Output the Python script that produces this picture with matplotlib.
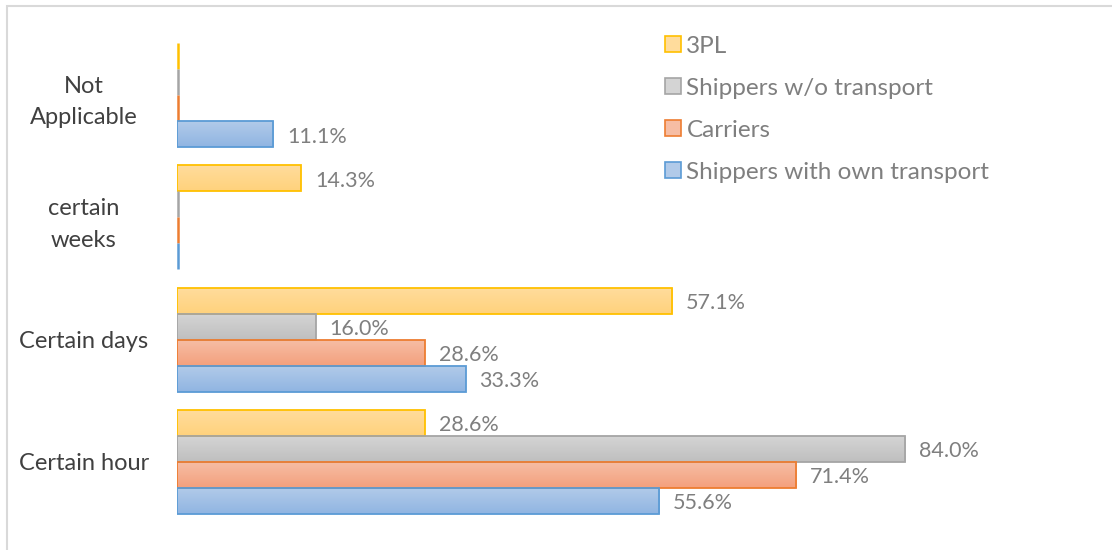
import numpy as np
import matplotlib
matplotlib.use('Agg')
import matplotlib.pyplot as plt
from matplotlib.colors import LinearSegmentedColormap
from matplotlib.patches import Rectangle
from matplotlib.lines import Line2D

categories = ['Certain hour', 'Certain days', 'certain\nweeks', 'Not\nApplicable']
series = ['3PL', 'Shippers w/o transport', 'Carriers', 'Shippers with own transport']
v_3pl = [28.6, 57.1, 14.3, 0.0]
v_wo = [84.0, 16.0, 0.0, 0.0]
v_car = [71.4, 28.6, 0.0, 0.0]
v_own = [55.6, 33.3, 0.0, 11.1]
values = [v_3pl, v_wo, v_car, v_own]

# couleurs: haut du dégradé, bas du dégradé, bordure
tops = ['#FFDC9C', '#D4D4D4', '#F6BDA4', '#B1CAE9']
bots = ['#FFD27C', '#BFBFBF', '#F4A07D', '#90B5E2']
edges = ['#FFC000', '#A5A5A5', '#ED7D31', '#5B9BD5']

plt.rcParams['font.family'] = ['Lato', 'DejaVu Sans']

fig = plt.figure(figsize=(11.12, 5.5), dpi=100)
W, H = 1112, 550
ax = fig.add_axes([177/W, (H-523)/H, (1044-177)/W, (523-34)/H])

h = 0.2125
offs = [1.5*h, 0.5*h, -0.5*h, -1.5*h]
y = np.arange(len(categories))

for k in range(4):
    cmap = LinearSegmentedColormap.from_list('g%d' % k, [bots[k], tops[k]])
    grad = np.linspace(0, 1, 50).reshape(-1, 1)
    for i in range(len(categories)):
        v = values[k][i]
        yc = y[i] + offs[k]
        if v > 0:
            ax.imshow(grad, cmap=cmap, origin='lower', aspect='auto',
                      extent=[0, v, yc - h/2, yc + h/2], zorder=1)
            ax.add_patch(Rectangle((0, yc - h/2), v, h, facecolor='none',
                                   edgecolor=edges[k], lw=1.3, zorder=2))
            ax.text(v + 1.6, yc - 0.02, '%.1f%%' % v, va='center', ha='left',
                    fontsize=15.5, color='#7F7F7F')
        else:
            ax.plot([0.1, 0.1], [yc - h/2, yc + h/2], color=edges[k], lw=1.8,
                    solid_capstyle='butt', zorder=2)

ax.set_xlim(0, 100)
ax.set_ylim(-0.5, 3.5)
ax.set_yticks(y)
ax.set_yticklabels(categories, fontsize=17, color='#404040', ha='center',
                   linespacing=1.6)
ax.tick_params(axis='y', length=0, pad=67)
ax.set_xticks([])
for s in ax.spines.values():
    s.set_visible(False)

handles = [Line2D([], [], ls='none', marker='s', markersize=11.5,
                  markerfacecolor=tops[k], markeredgecolor=edges[k],
                  markeredgewidth=1.2) for k in range(4)]
leg = fig.legend(handles, series, loc='upper left', bbox_to_anchor=(639/W, 1 - 14/H),
                 frameon=False, fontsize=17.5, handletextpad=0.05, labelspacing=0.86,
                 handlelength=1.0)
for t in leg.get_texts():
    t.set_color('#7F7F7F')

# cadre du graphique
fig.patches.append(Rectangle((7/W, -0.1), 1.2, 1 - 6/H + 0.1, transform=fig.transFigure,
                             facecolor='none', edgecolor='#D9D9D9', lw=1.5))

fig.savefig('out.png', dpi=100)
